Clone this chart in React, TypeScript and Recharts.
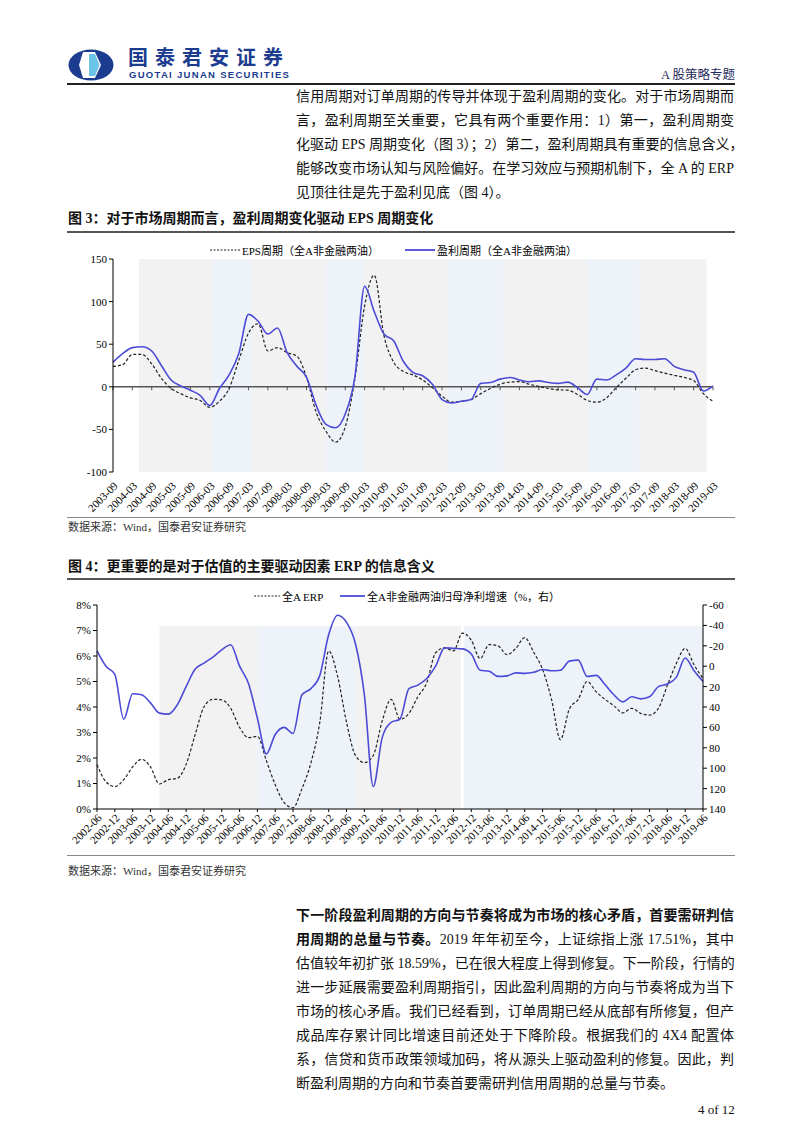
import React from 'react'
import { LineChart, Line, XAxis, YAxis, ReferenceArea, ReferenceLine } from 'recharts'

// 图3：季度采样
const periods3 = [
  '2003-09', '2003-12', '2004-03', '2004-06', '2004-09', '2004-12', '2005-03', '2005-06', '2005-09', '2005-12',
  '2006-03', '2006-06', '2006-09', '2006-12', '2007-03', '2007-06', '2007-09', '2007-12', '2008-03', '2008-06',
  '2008-09', '2008-12', '2009-03', '2009-06', '2009-09', '2009-12', '2010-03', '2010-06', '2010-09', '2010-12',
  '2011-03', '2011-06', '2011-09', '2011-12', '2012-03', '2012-06', '2012-09', '2012-12', '2013-03', '2013-06',
  '2013-09', '2013-12', '2014-03', '2014-06', '2014-09', '2014-12', '2015-03', '2015-06', '2015-09', '2015-12',
  '2016-03', '2016-06', '2016-09', '2016-12', '2017-03', '2017-06', '2017-09', '2017-12', '2018-03', '2018-06',
  '2018-09', '2018-12', '2019-03',
]
const eps3 = [
  24, 26, 38, 38, 27, 10, -2, -8, -13, -16,
  -24, -17, -2, 31, 63, 74, 42, 46, 40, 36,
  11, -30, -52, -65, -47, 10, 95, 131, 60, 29,
  18, 14, 8, -1, -11, -18, -17, -15, -8, -2,
  3, 5.5, 6, 3, 0.5, -2, -3.5, -4, -9, -16,
  -18, -13, -1, 10, 20, 22, 19, 16, 13.5, 11,
  7.4, -8, -17,
]
const profit3 = [
  29, 39, 46, 47, 42, 25, 8, 1, -4, -10,
  -22, -2, 14, 39, 85, 77, 62, 69, 40, 24,
  11, -22, -44, -48, -32, 12, 118, 88, 62, 54,
  30, 17, 13, 3, -15, -19, -17, -15, 4, 5,
  9, 11, 8, 6, 7, 5, 4, 5.5, -1, -9,
  9, 8, 14, 22, 33, 32, 32, 33, 24, 20,
  17, -5, 1,
]
const yTicks3 = [-100, -50, 0, 50, 100, 150]
const grayBand3 = ['2004-05', '2019-01']
const blueBands3 = [
  ['2006-04', '2007-04'],
  ['2009-03', '2010-03'],
  ['2012-05', '2013-10'],
  ['2015-12', '2017-04'],
]

// 图4：季度采样
const periods4 = [
  '2002-06', '2002-09', '2002-12', '2003-03', '2003-06', '2003-09', '2003-12', '2004-03', '2004-06', '2004-09',
  '2004-12', '2005-03', '2005-06', '2005-09', '2005-12', '2006-03', '2006-06', '2006-09', '2006-12', '2007-03',
  '2007-06', '2007-09', '2007-12', '2008-03', '2008-06', '2008-09', '2008-12', '2009-03', '2009-06', '2009-09',
  '2009-12', '2010-03', '2010-06', '2010-09', '2010-12', '2011-03', '2011-06', '2011-09', '2011-12', '2012-03',
  '2012-06', '2012-09', '2012-12', '2013-03', '2013-06', '2013-09', '2013-12', '2014-03', '2014-06', '2014-09',
  '2014-12', '2015-03', '2015-06', '2015-09', '2015-12', '2016-03', '2016-06', '2016-09', '2016-12', '2017-03',
  '2017-06', '2017-09', '2017-12', '2018-03', '2018-06', '2018-09', '2018-12', '2019-03', '2019-06',
]
const erp4 = [
  1.74, 1.07, 0.88, 1.15, 1.65, 1.95, 1.65, 0.98, 1.15, 1.2,
  1.75, 2.9, 4.0, 4.3, 4.28, 3.95, 3.2, 2.8, 2.85, 1.9,
  0.95, 0.25, 0.05, 0.8, 1.8, 3.4, 6.2, 5.2, 3.4, 2.1,
  1.82, 2.1, 3.45, 4.3, 3.52, 3.75, 4.4, 4.95, 6.13, 6.32,
  6.2, 6.9, 6.62, 5.9, 6.45, 6.4, 6.05, 6.3, 6.72, 6.15,
  5.47, 4.3, 2.72, 3.92, 4.3, 5.0, 4.6, 4.3, 4.05, 3.77,
  3.95, 3.75, 3.68, 3.95, 4.85, 5.7, 6.3, 5.65, 5.12,
]
const profit4 = [
  -15, 0, 8, 52, 27, 28, 36, 46, 47, 38,
  20, 3, -3, -9, -16, -21, 0, 17, 51, 86,
  67, 60, 66, 28, 22, 9, -31, -50, -43, -22,
  28, 118, 70, 55, 52, 22, 18.5, 12, 0, -18,
  -17.5, -17, -12, 4, 5, 10, 9.5, 6.5, 7, 6,
  3.2, 4.5, 4, -5, -6, 10, 9, 18, 28, 35,
  30, 32, 30, 20, 17.5, 11, -8, 4.5, 15,
]
const leftTicks4 = [0, 1, 2, 3, 4, 5, 6, 7, 8]
const rightTicks4 = [-60, -40, -20, 0, 20, 40, 60, 80, 100, 120, 140]
const grayBand4 = ['2004-03', '2019-06']
const blueBands4 = [
  ['2006-12', '2009-09'],
  ['2012-09', '2019-06'],
]
const splitAt4 = '2012-09'
const SHADE_TOP4 = 7.17

const SERIF = '"Liberation Serif", "Noto Sans CJK SC", serif'
const BLUE = '#4b4bd6'

const monthsFrom = (base: string, p: string) => {
  const [by, bm] = base.split('-').map(Number)
  const [y, m] = p.split('-').map(Number)
  return (y - by) * 12 + (m - bm)
}

const m3 = (p: string) => monthsFrom(periods3[0], p)
const m4 = (p: string) => monthsFrom(periods4[0], p)

const data3 = periods3.map((p, i) => ({ m: m3(p), eps: eps3[i], profit: profit3[i] }))
const ticks3 = periods3.filter((_, i) => i % 2 === 0).map(m3)
const data4 = periods4.map((p, i) => ({ m: m4(p), erp: erp4[i], profit: profit4[i] }))
const ticks4 = periods4.filter((_, i) => i % 2 === 0).map(m4)

const abs = (left: number, top: number, extra: React.CSSProperties = {}): React.CSSProperties => ({
  position: 'absolute', left, top, ...extra,
})

const para1 = [
  '信用周期对订单周期的传导并体现于盈利周期的变化。对于市场周期而',
  '言，盈利周期至关重要，它具有两个重要作用：1）第一，盈利周期变',
  '化驱动 EPS 周期变化（图 3）；2）第二，盈利周期具有重要的信息含义，',
  '能够改变市场认知与风险偏好。在学习效应与预期机制下，全 A 的 ERP',
  '见顶往往是先于盈利见底（图 4）。',
]
const para2 = [
  '估值较年初扩张 18.59%，已在很大程度上得到修复。下一阶段，行情的',
  '进一步延展需要盈利周期指引，因此盈利周期的方向与节奏将成为当下',
  '市场的核心矛盾。我们已经看到，订单周期已经从底部有所修复，但产',
  '成品库存累计同比增速目前还处于下降阶段。根据我们的 4X4 配置体',
  '系，信贷和货币政策领域加码，将从源头上驱动盈利的修复。因此，判',
  '断盈利周期的方向和节奏首要需研判信用周期的总量与节奏。',
]

const lineStyle = (top: number, full: boolean): React.CSSProperties =>
  abs(296, top, {
    width: 438,
    fontSize: 14,
    lineHeight: '24px',
    fontFamily: SERIF,
    color: '#111',
    whiteSpace: 'nowrap',
    textAlign: full ? 'justify' : 'left',
    textAlignLast: full ? 'justify' : 'left',
  })

const LegendItem = ({ x, y, dashed, color, label, w }: any) => (
  <div style={abs(x, y, { display: 'flex', alignItems: 'center', fontSize: 11, fontFamily: SERIF, color: '#000', whiteSpace: 'nowrap' })}>
    <svg width={w} height={6} style={{ marginRight: 2 }}>
      <line x1={0} y1={3} x2={w} y2={3} stroke={color} strokeWidth={dashed ? 1.2 : 1.8} strokeDasharray={dashed ? '2 1.5' : undefined} />
    </svg>
    <span>{label}</span>
  </div>
)

const axisTick = { fontSize: 11, fill: '#000', fontFamily: SERIF }
const xTick = { fontSize: 11, fill: '#000', fontFamily: SERIF }

const Chart3 = () => (
  <LineChart width={680} height={285} data={data3} margin={{ top: 19, right: 27, bottom: 6, left: 0 }}>
    <XAxis
      dataKey="m" type="number" domain={[0, 186]} ticks={ticks3} interval={0}
      tickFormatter={(v: number) => periods3[Math.round(v / 3)]}
      axisLine={false} tickLine={false} angle={-45} textAnchor="end" height={47} tick={xTick} tickMargin={3}
    />
    <YAxis
      domain={[-100, 150]} ticks={yTicks3} width={53} interval={0}
      axisLine={{ stroke: '#000' }} tickLine={{ stroke: '#000' }} tickSize={4} tick={axisTick}
    />
    <ReferenceArea x1={m3(grayBand3[0])} x2={m3(grayBand3[1])} y1={-100} y2={150} fill="#f2f2f2" fillOpacity={1} stroke="none" />
    {blueBands3.map(([a, b]) => (
      <ReferenceArea key={a} x1={m3(a)} x2={m3(b)} y1={-100} y2={150} fill="#eef3f9" fillOpacity={1} stroke="none" />
    ))}
    <ReferenceLine y={0} stroke="#555" strokeWidth={1.5} />
    {ticks3.map((t) => (
      <ReferenceLine key={t} segment={[{ x: t, y: 0 }, { x: t, y: -4 }]} stroke="#555" strokeWidth={1} ifOverflow="visible" />
    ))}
    <Line dataKey="eps" type="monotone" stroke="#222" strokeWidth={1.2} strokeDasharray="3 2" dot={false} isAnimationActive={false} />
    <Line dataKey="profit" type="monotone" stroke={BLUE} strokeWidth={1.6} dot={false} isAnimationActive={false} />
  </LineChart>
)

const Chart4 = () => (
  <LineChart width={720} height={270} data={data4} margin={{ top: 20, right: 17, bottom: 2, left: 0 }}>
    <XAxis
      dataKey="m" type="number" domain={[0, 204]} ticks={ticks4} interval={0}
      tickFormatter={(v: number) => periods4[Math.round(v / 3)]}
      axisLine={{ stroke: '#000' }} tickLine={{ stroke: '#000' }} tickSize={3}
      angle={-45} textAnchor="end" height={44} tick={xTick} tickMargin={1}
    />
    <YAxis
      yAxisId="left" domain={[0, 8]} ticks={leftTicks4} width={57} interval={0}
      tickFormatter={(v: number) => `${v}%`}
      axisLine={{ stroke: '#000' }} tickLine={{ stroke: '#000' }} tickSize={4} tick={axisTick}
    />
    <YAxis
      yAxisId="right" orientation="right" reversed domain={[-60, 140]} ticks={rightTicks4} width={40} interval={0}
      axisLine={{ stroke: '#000' }} tickLine={{ stroke: '#000' }} tickSize={4} tick={axisTick}
    />
    <ReferenceArea yAxisId="left" x1={m4(grayBand4[0])} x2={m4(grayBand4[1])} y1={0} y2={SHADE_TOP4} fill="#f2f2f2" fillOpacity={1} stroke="none" />
    {blueBands4.map(([a, b]) => (
      <ReferenceArea key={a} yAxisId="left" x1={m4(a)} x2={m4(b)} y1={0} y2={SHADE_TOP4} fill="#eef3f9" fillOpacity={1} stroke="none" />
    ))}
    <ReferenceLine yAxisId="left" segment={[{ x: m4(splitAt4), y: 0 }, { x: m4(splitAt4), y: SHADE_TOP4 }]} stroke="#fff" strokeWidth={2.5} />
    <Line yAxisId="left" dataKey="erp" type="monotone" stroke="#222" strokeWidth={1.2} strokeDasharray="3 2" dot={false} isAnimationActive={false} />
    <Line yAxisId="right" dataKey="profit" type="monotone" stroke={BLUE} strokeWidth={1.6} dot={false} isAnimationActive={false} />
  </LineChart>
)

const Logo = () => (
  <svg width={46} height={32}>
    <ellipse cx={23} cy={16} rx={22.5} ry={15.5} fill="#1b3c8f" />
    <polygon points="15,3 27,3 33,16 27,29 15,29 11,16" fill="#fff" />
    <polygon points="21,5 27,5 31.5,16 27,27 21,27" fill="#6cc3e8" />
  </svg>
)

const rule = (top: number, h = 1, color = '#333'): React.CSSProperties =>
  abs(67, top, { width: 668, height: h, background: color })

export default function App() {
  return (
    <div style={{ position: 'absolute', left: 0, top: 0, width: 802, height: 1133, background: '#fff', overflow: 'hidden' }}>
      {/* header */}
      <div style={abs(68, 49)}><Logo /></div>
      <div style={abs(128, 46, { fontSize: 20, fontWeight: 700, letterSpacing: 7, color: '#1b3c8f', fontFamily: '"Noto Sans CJK SC", sans-serif', lineHeight: '22px', whiteSpace: 'nowrap' })}>国泰君安证券</div>
      <div style={abs(129, 70, { fontSize: 9.5, fontWeight: 700, letterSpacing: 1.3, color: '#1b3c8f', fontFamily: '"Liberation Sans", sans-serif', lineHeight: '10px', whiteSpace: 'nowrap' })}>GUOTAI JUNAN SECURITIES</div>
      <div style={abs(661, 67, { fontSize: 12.5, color: '#1f2a5c', fontFamily: SERIF, lineHeight: '16px', whiteSpace: 'nowrap' })}>A 股策略专题</div>
      <div style={rule(83, 1.5, '#222')} />

      {para1.map((t, i) => (
        <div key={i} style={lineStyle(85 + i * 24, i < para1.length - 1)}>{t}</div>
      ))}

      {/* 图3 */}
      <div style={abs(68, 210, { fontSize: 14, fontWeight: 700, fontFamily: SERIF, color: '#111', lineHeight: '18px' })}>
        图 3：对于市场周期而言，盈利周期变化驱动 EPS 周期变化
      </div>
      <div style={rule(231, 1.5, '#555')} />
      <LegendItem x={210} y={242} dashed color="#222" w={30} label="EPS周期（全A非金融两油）" />
      <LegendItem x={405} y={242} color={BLUE} w={30} label="盈利周期（全A非金融两油）" />
      <div style={abs(60, 240)}><Chart3 /></div>
      <div style={rule(517, 1, '#888')} />
      <div style={abs(68, 520, { fontSize: 11, fontFamily: SERIF, color: '#333', lineHeight: '14px' })}>数据来源：Wind，国泰君安证券研究</div>

      {/* 图4 */}
      <div style={abs(68, 558, { fontSize: 14, fontWeight: 700, fontFamily: SERIF, color: '#111', lineHeight: '18px' })}>
        图 4：更重要的是对于估值的主要驱动因素 ERP 的信息含义
      </div>
      <div style={rule(578, 1.5, '#555')} />
      <LegendItem x={254} y={588} dashed color="#222" w={26} label="全A ERP" />
      <LegendItem x={340} y={588} color={BLUE} w={25} label="全A非金融两油归母净利增速（%，右）" />
      <div style={abs(40, 585)}><Chart4 /></div>
      <div style={rule(855, 1, '#888')} />
      <div style={abs(68, 864, { fontSize: 11, fontFamily: SERIF, color: '#333', lineHeight: '14px' })}>数据来源：Wind，国泰君安证券研究</div>

      {/* 正文 */}
      <div style={lineStyle(904, true)}>
        <b>下一阶段盈利周期的方向与节奏将成为市场的核心矛盾，首要需研判信</b>
      </div>
      <div style={lineStyle(928, true)}>
        <b>用周期的总量与节奏。</b>2019 年年初至今，上证综指上涨 17.51%，其中
      </div>
      {para2.map((t, i) => (
        <div key={i} style={lineStyle(952 + i * 24, i < para2.length - 1)}>{t}</div>
      ))}
      <div style={abs(698, 1102, { fontSize: 13, fontFamily: SERIF, color: '#111', lineHeight: '16px' })}>4 of 12</div>
    </div>
  )
}
